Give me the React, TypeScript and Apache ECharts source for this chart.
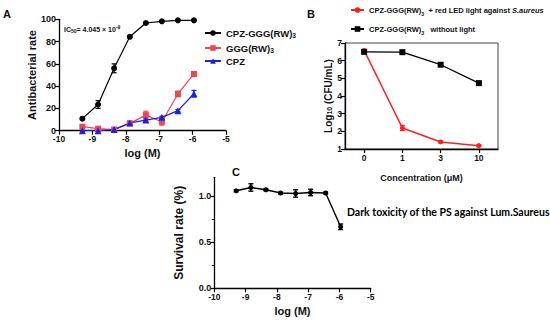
import React, { useEffect, useRef } from 'react';
import * as echarts from 'echarts';

// ---- Data ----
// Panel A & C: log10 of concentration (M)
const logConc = [-9.3, -8.83, -8.35, -7.88, -7.4, -6.92, -6.44, -5.96];
const cpzGGG = [10.8, 23.5, 56, 84.3, 96.7, 98.2, 99.1, 99.1];
const cpzGGGErr = [0.5, 3.5, 4, 1, 0.5, 0.5, 0.3, 0.3];
const gggRW = [3.6, 1.8, 1, 6.6, 14, 8, 33, 50.9];
const gggRWErr = [1, 1, 0.5, 1, 3.5, 3, 2.5, 1.5];
const cpzOnly = [0, 0, 1, 7, 9.5, 12, 18, 33.2];
const cpzOnlyErr = [0.5, 0.5, 0.5, 1.5, 1, 1, 1, 3];

// Panel B
const concLabels = ['0', '1', '3', '10'];
const lightVals = [6.58, 2.19, 1.4, 1.19];
const lightErr = [0.05, 0.15, 0.05, 0.05];
const darkVals = [6.5, 6.48, 5.77, 4.73];
const darkErr = [0.05, 0.05, 0.05, 0.05];

// Panel C
const survival = [1.054, 1.09, 1.065, 1.03, 1.025, 1.036, 1.03, 0.665];
const survivalErr = [0.01, 0.04, 0.01, 0.01, 0.04, 0.035, 0.01, 0.03];

const aTicks = { xMin: -10, xMax: -5, xStep: 1, yMin: 0, yMax: 100, yStep: 20 };
const bTicks = { yMin: 1, yMax: 7, yStep: 1 };
const cYTicks = [0, 0.5, 1];
const cYMinor = [0.25, 0.75];

const FF = 'Liberation Sans, Arial, sans-serif';
const TXT = '#111';

const N_CPZGGG = 'CPZ-GGG(RW)3';
const N_GGG = 'GGG(RW)3';
const N_CPZ = 'CPZ';
const N_LIGHT = 'light';
const N_DARK = 'dark';

const RED_A = '#f2434f';
const BLUE_A = '#1f1fe0';
const RED_B = '#ff1f1f';

const axisLine = { show: true, onZero: false, lineStyle: { color: '#000', width: 1.3 } };
const tick = { show: true, length: 4, lineStyle: { color: '#000', width: 1.2 } };
const lbl = (size: number, margin = 4) => ({
  fontFamily: FF,
  fontWeight: 'bold',
  fontSize: size,
  color: TXT,
  margin,
});
const nameStyle = (size: number, rich?: any) => ({
  fontFamily: FF,
  fontWeight: 'bold',
  fontSize: size,
  color: TXT,
  rich,
});

const errRender = (color: string, cap: number, width = 1.2) => (params: any, api: any) => {
  const x = api.value(0);
  const y = api.value(1);
  const e = api.value(2);
  if (!e) return null;
  const top = api.coord([x, y + e]);
  const bot = api.coord([x, y - e]);
  const st = { stroke: color, lineWidth: width };
  return {
    type: 'group',
    children: [
      { type: 'line', shape: { x1: top[0], y1: top[1], x2: bot[0], y2: bot[1] }, style: st },
      { type: 'line', shape: { x1: top[0] - cap, y1: top[1], x2: top[0] + cap, y2: top[1] }, style: st },
      { type: 'line', shape: { x1: bot[0] - cap, y1: bot[1], x2: bot[0] + cap, y2: bot[1] }, style: st },
    ],
  };
};

const pairs = (xs: number[], ys: number[]) => xs.map((x, i) => [x, ys[i]]);
const triples = (xs: number[], ys: number[], es: number[]) => xs.map((x, i) => [x, ys[i], es[i]]);
const catTriples = (ys: number[], es: number[]) => ys.map((y, i) => [i, y, es[i]]);

const subRich = {
  s: { fontFamily: FF, fontWeight: 'bold', fontSize: 7, color: TXT, verticalAlign: 'bottom', lineHeight: 7 },
  i: { fontFamily: FF, fontWeight: 'bold', fontStyle: 'italic', fontSize: 8.5, color: TXT, lineHeight: 12 },
};

function legendBox(name: string, left: number, top: number, size: number, itemWidth: number, fmt: string) {
  return {
    data: [name],
    left,
    top,
    orient: 'horizontal',
    itemWidth,
    itemHeight: 7,
    padding: 0,
    selectedMode: false,
    formatter: () => fmt,
    textStyle: {
      fontFamily: FF,
      fontWeight: 'bold',
      fontSize: size,
      color: TXT,
      lineHeight: 12,
      rich: {
        ...subRich,
        s: { ...subRich.s, fontSize: size * 0.7 },
        i: { ...subRich.i, fontSize: size },
      },
    },
  };
}

const option: any = {
  animation: false,
  backgroundColor: '#fff',
  grid: [
    { left: 59, top: 19.3, width: 167, height: 111.4, containLabel: false },
    { left: 345, top: 43, width: 153, height: 106, show: true, borderColor: '#444', borderWidth: 1, containLabel: false },
    { left: 214.3, top: 177.3, width: 156.4, height: 111, containLabel: false },
  ],
  xAxis: [
    {
      gridIndex: 0,
      type: 'value',
      min: aTicks.xMin,
      max: aTicks.xMax,
      interval: aTicks.xStep,
      axisLine,
      axisTick: tick,
      axisLabel: lbl(8.5, 4),
      splitLine: { show: false },
      name: 'log (M)',
      nameLocation: 'middle',
      nameGap: 17,
      nameTextStyle: nameStyle(11),
    },
    {
      gridIndex: 1,
      type: 'category',
      data: concLabels,
      boundaryGap: true,
      axisLine,
      axisTick: { ...tick, alignWithLabel: true },
      axisLabel: lbl(8.5),
      splitLine: { show: false },
      name: 'Concentration (μM)',
      nameLocation: 'middle',
      nameGap: 24,
      nameTextStyle: nameStyle(9),
    },
    {
      gridIndex: 2,
      type: 'value',
      min: aTicks.xMin,
      max: aTicks.xMax,
      interval: aTicks.xStep,
      axisLine,
      axisTick: tick,
      axisLabel: lbl(8.5, 4),
      splitLine: { show: false },
      name: 'log (M)',
      nameLocation: 'middle',
      nameGap: 17,
      nameTextStyle: nameStyle(11),
    },
  ],
  yAxis: [
    {
      gridIndex: 0,
      type: 'value',
      min: aTicks.yMin,
      max: aTicks.yMax,
      interval: aTicks.yStep,
      axisLine,
      axisTick: tick,
      axisLabel: lbl(9, 3),
      splitLine: { show: false },
      name: 'Antibacterial rate',
      nameLocation: 'middle',
      nameGap: 21,
      nameTextStyle: nameStyle(11),
    },
    {
      gridIndex: 1,
      type: 'value',
      min: bTicks.yMin,
      max: bTicks.yMax,
      interval: bTicks.yStep,
      axisLine,
      axisTick: tick,
      axisLabel: lbl(8.5, 3),
      splitLine: { show: false },
      name: 'Log{s|10} (CFU/mL)',
      nameLocation: 'middle',
      nameGap: 12,
      nameTextStyle: nameStyle(10, { s: { ...subRich.s, fontSize: 7 } }),
    },
    {
      gridIndex: 2,
      type: 'value',
      position: 'left',
      min: 0,
      max: 1.2,
      interval: 0.5,
      axisLine,
      axisTick: { ...tick, customValues: cYTicks },
      axisLabel: { ...lbl(9, 3), customValues: cYTicks, formatter: (v: number) => v.toFixed(1) },
      splitLine: { show: false },
      name: 'Survival rate (%)',
      nameLocation: 'middle',
      nameGap: 29,
      nameTextStyle: nameStyle(12),
    },
    {
      gridIndex: 2,
      type: 'value',
      position: 'left',
      min: 0,
      max: 1.2,
      axisLine: { show: false },
      axisTick: { show: true, length: 2.5, customValues: cYMinor, lineStyle: { color: '#000', width: 1 } },
      axisLabel: { show: false },
      splitLine: { show: false },
    },
  ],
  legend: [
    legendBox(N_CPZGGG, 204, 27, 9.5, 16, 'CPZ-GGG(RW){s|3}'),
    legendBox(N_GGG, 204, 42, 9.5, 16, 'GGG(RW){s|3}'),
    legendBox(N_CPZ, 204, 55, 9.5, 16, 'CPZ'),
    legendBox(N_LIGHT, 350, 4, 7.5, 13, 'CPZ-GGG(RW){s|3}  + red LED light against {i|S.aureus}'),
    legendBox(N_DARK, 350, 23, 7.5, 13, 'CPZ-GGG(RW){s|3}   without light'),
  ],
  series: [
    {
      name: N_CPZGGG, type: 'line', xAxisIndex: 0, yAxisIndex: 0,
      data: pairs(logConc, cpzGGG), symbol: 'circle', symbolSize: 6,
      itemStyle: { color: '#000' }, lineStyle: { color: '#000', width: 1.2 },
    },
    {
      name: N_GGG, type: 'line', xAxisIndex: 0, yAxisIndex: 0,
      data: pairs(logConc, gggRW), symbol: 'rect', symbolSize: 6,
      itemStyle: { color: RED_A }, lineStyle: { color: RED_A, width: 1.2 },
    },
    {
      name: N_CPZ, type: 'line', xAxisIndex: 0, yAxisIndex: 0,
      data: pairs(logConc, cpzOnly), symbol: 'triangle', symbolSize: 7,
      itemStyle: { color: BLUE_A }, lineStyle: { color: BLUE_A, width: 1.2 },
    },
    { type: 'custom', xAxisIndex: 0, yAxisIndex: 0, renderItem: errRender('#000', 2.5), data: triples(logConc, cpzGGG, cpzGGGErr), z: 3 },
    { type: 'custom', xAxisIndex: 0, yAxisIndex: 0, renderItem: errRender(RED_A, 2.5), data: triples(logConc, gggRW, gggRWErr), z: 3 },
    { type: 'custom', xAxisIndex: 0, yAxisIndex: 0, renderItem: errRender(BLUE_A, 2.5), data: triples(logConc, cpzOnly, cpzOnlyErr), z: 3 },

    {
      name: N_LIGHT, type: 'line', xAxisIndex: 1, yAxisIndex: 1,
      data: lightVals, symbol: 'circle', symbolSize: 5,
      itemStyle: { color: RED_B }, lineStyle: { color: RED_B, width: 1.5 },
    },
    {
      name: N_DARK, type: 'line', xAxisIndex: 1, yAxisIndex: 1,
      data: darkVals, symbol: 'rect', symbolSize: 6,
      itemStyle: { color: '#000' }, lineStyle: { color: '#000', width: 1.3 },
    },
    { type: 'custom', xAxisIndex: 1, yAxisIndex: 1, renderItem: errRender(RED_B, 2.5), data: catTriples(lightVals, lightErr), z: 3 },
    { type: 'custom', xAxisIndex: 1, yAxisIndex: 1, renderItem: errRender('#000', 2.5), data: catTriples(darkVals, darkErr), z: 3 },

    {
      name: 'survival', type: 'line', xAxisIndex: 2, yAxisIndex: 2,
      data: pairs(logConc, survival), symbol: 'circle', symbolSize: 5,
      itemStyle: { color: '#000' }, lineStyle: { color: '#000', width: 1.4 },
    },
    { type: 'custom', xAxisIndex: 2, yAxisIndex: 2, renderItem: errRender('#000', 2.5, 1.4), data: triples(logConc, survival, survivalErr), z: 3 },
  ],
  graphic: [
    { type: 'text', x: 7, y: 14, style: { text: 'A', fontFamily: FF, fontWeight: 'bold', fontSize: 11, fill: TXT, align: 'center', verticalAlign: 'middle', textAlign: 'center', textVerticalAlign: 'middle' } },
    { type: 'text', x: 311, y: 14, style: { text: 'B', fontFamily: FF, fontWeight: 'bold', fontSize: 11, fill: TXT, align: 'center', verticalAlign: 'middle', textAlign: 'center', textVerticalAlign: 'middle' } },
    { type: 'text', x: 236, y: 172, style: { text: 'C', fontFamily: FF, fontWeight: 'bold', fontSize: 11, fill: TXT, align: 'center', verticalAlign: 'middle', textAlign: 'center', textVerticalAlign: 'middle' } },
    {
      type: 'text', x: 64, y: 29,
      style: {
        text: 'IC{s|50}= 4.045 × 10{p|-9}',
        fontFamily: FF, fontWeight: 'bold', fontSize: 7, fill: TXT, lineHeight: 9,
        verticalAlign: 'middle', textVerticalAlign: 'middle',
        rich: {
          s: { fontFamily: FF, fontWeight: 'bold', fontSize: 5, fill: TXT, verticalAlign: 'bottom', lineHeight: 5 },
          p: { fontFamily: FF, fontWeight: 'bold', fontSize: 5, fill: TXT, verticalAlign: 'top', lineHeight: 5 },
        },
      },
    },
    {
      type: 'text', x: 347, y: 212,
      style: {
        text: 'Dark toxicity of the PS against Lum.Saureus',
        fontFamily: 'Lato, Open Sans, sans-serif', fontWeight: 'bold', fontSize: 10.5, fill: '#000',
        verticalAlign: 'middle', textVerticalAlign: 'middle',
      },
    },
  ],
};

export default function App() {
  const ref = useRef<HTMLDivElement>(null);
  useEffect(() => {
    document.body.style.margin = '0';
    const chart = echarts.init(ref.current!, null, { renderer: 'svg' });
    chart.setOption(option);
    return () => chart.dispose();
  }, []);
  return (
    <div
      ref={ref}
      style={{ position: 'absolute', left: 0, top: 0, width: 550, height: 323, background: '#fff' }}
    />
  );
}
